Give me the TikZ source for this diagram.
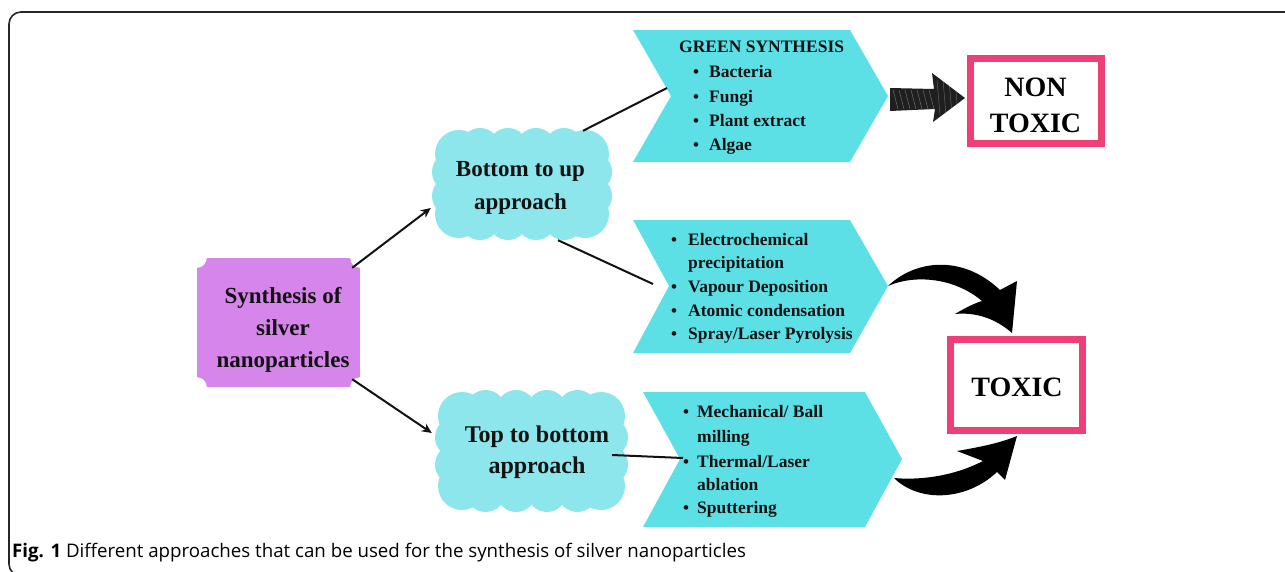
\documentclass[tikz,border=0pt]{standalone}
\usepackage{fontspec}
\setmainfont{Liberation Serif}
\newfontfamily\capfont{Open Sans}
\usetikzlibrary{arrows.meta,calc}

\definecolor{violetbox}{RGB}{214,134,234}
\definecolor{cloudcyan}{RGB}{140,230,236}
\definecolor{chevcyan}{RGB}{92,224,230}
\definecolor{toxpink}{RGB}{238,64,118}
\definecolor{ink}{RGB}{18,18,18}

\tikzset{
  lbl/.style={anchor=base, font=\bfseries\fontsize{23}{23}\selectfont, text=ink, inner sep=0pt},
  itm/.style={anchor=base west, font=\bfseries\fontsize{17.5}{17.5}\selectfont, text=ink, inner sep=0pt},
  bul/.style={anchor=base, font=\bfseries\fontsize{17}{17}\selectfont, text=ink, inner sep=0pt},
  tox/.style={anchor=base, font=\bfseries\fontsize{28}{28}\selectfont, text=black, inner sep=0pt},
  link/.style={line width=2pt, draw=ink},
  linkarrow/.style={link, -{Stealth[length=10pt,width=9pt]}},
  chev/.style={fill=chevcyan},
  pinkbox/.style={draw=toxpink, line width=7pt, fill=white, inner sep=0pt},
  bigarrow/.style={fill=black},
}

% scalloped cloud: x0 y0 x1 y1, bumps across, bumps down (radius 20, rounder corners)
\newcommand\puffcloud[6]{%
  \fill[cloudcyan] (#1+14,#2+14) rectangle (#3-14,#4-14);
  \foreach \k in {1,...,\numexpr#5-1\relax}{%
    \fill[cloudcyan] ({#1+20+(#3-#1-40)*\k/#5},{#2+20}) circle[radius=20pt];
    \fill[cloudcyan] ({#1+20+(#3-#1-40)*\k/#5},{#4-20}) circle[radius=20pt];}
  \foreach \k in {1,...,\numexpr#6-1\relax}{%
    \fill[cloudcyan] ({#1+20},{#2+20+(#4-#2-40)*\k/#6}) circle[radius=20pt];
    \fill[cloudcyan] ({#3-20},{#2+20+(#4-#2-40)*\k/#6}) circle[radius=20pt];}
  \foreach \cx/\cy in {#1+27/#2+26,#3-27/#2+26,#1+27/#4-26,#3-27/#4-26}
    \fill[cloudcyan] (\cx,\cy) circle[radius=24pt];
}

\begin{document}
\begin{tikzpicture}[x=1pt,y=-1pt]
\useasboundingbox (0,0) rectangle (1285,571);

% outer frame
\begin{scope}
  \clip (0,0) rectangle (1285,571);
  \draw[line width=1.6pt, black!85, rounded corners=12pt] (9,12) rectangle (1330,576);
\end{scope}

% central box with notched corners
\node[fill=violetbox, minimum width=163pt, minimum height=129pt, inner sep=0pt] (syn) at (278.5,322.5) {};
\foreach \c in {north east,north west,south east,south west}
  \fill[white] (syn.\c) circle[radius=10pt];
\node[lbl] (syn1) at (283,303) {Synthesis of};
\node[lbl] (syn2) at (283,335) {silver};
\node[lbl] (syn3) at (283,367) {nanoparticles};

% clouds
\puffcloud{432}{128}{612}{240}{5}{3}
\node[minimum width=180pt, minimum height=112pt, inner sep=0pt] (bu) at (522,184) {};
\node[lbl] (bu1) at (520.5,176) {Bottom to up};
\node[lbl] (bu2) at (520.5,209) {approach};

\puffcloud{435}{390}{628}{512}{5}{3}
\node[minimum width=193pt, minimum height=122pt, inner sep=0pt] (td) at (531.5,451) {};
\node[lbl, font=\bfseries\fontsize{24}{24}\selectfont] (td1) at (537,442) {Top to bottom};
\node[lbl, font=\bfseries\fontsize{24}{24}\selectfont] (td2) at (537,473) {approach};

% chevrons
\fill[chev] (633,30) -- (850,30) -- (888,96) -- (850,162) -- (633,162) -- (671,96) -- cycle;
\coordinate (c1in) at (671,96);
\coordinate (c1out) at (888,96);
\fill[chev] (633,220) -- (850,220) -- (888,286) -- (850,353) -- (633,353) -- (669,286) -- cycle;
\coordinate (c2in) at (669,286);
\coordinate (c2out) at (888,286);
\fill[chev] (643,392) -- (865,392) -- (902,459) -- (865,527) -- (643,527) -- (680,459) -- cycle;
\coordinate (c3in) at (680,459);
\coordinate (c3out) at (902,459);

% green synthesis list
\node[itm] (g0) at (679,52) {GREEN SYNTHESIS};
\foreach \t/\y [count=\i] in {Bacteria/77,Fungi/102,Plant extract/126,Algae/150}{
  \node[bul] (gb\i) at (696,\y) {\textbullet};
  \node[itm] (g\i) at (709,\y) {\t};}

% physical / chemical list
\foreach \t/\y [count=\i] in {{Electrochemical}/245,{Vapour Deposition}/292,{Atomic condensation}/316,{Spray/Laser Pyrolysis}/339}{
  \node[bul] (pb\i) at (674,\y) {\textbullet};
  \node[itm] (p\i) at (688,\y) {\t};}
\node[itm] (p1b) at (688,268) {precipitation};

% top-down list
\foreach \t/\y [count=\i] in {{Mechanical/ Ball}/417,{Thermal/Laser}/467,{Sputtering}/513}{
  \node[bul] (tb\i) at (686,\y) {\textbullet};
  \node[itm] (t\i) at (697,\y) {\t};}
\node[itm] (t1b) at (697,442) {milling};
\node[itm] (t2b) at (697,490) {ablation};

% connectors
\draw[linkarrow] ($(syn.north east)+(-8,10)$) -- ($(bu.west)+(-1,24)$);
\draw[linkarrow] ($(syn.south east)+(-8,-8)$) -- ($(td.west)+(-3,-18)$);
\draw[link] ($(bu.north)+(61,3)$) -- ($(c1in)+(-4,-8)$);
\draw[link] ($(bu.south)+(36,0)$) -- ($(c2in)+(-16,-2)$);
\draw[link] ($(td.east)+(-16,4)$) -- ($(c3in)+(3,-1)$);

% result boxes
\node[pinkbox, minimum width=131pt, minimum height=85pt] (nt) at (1036,101) {};
\node[tox] (nt1) at (1035.5,96) {NON};
\node[tox] (nt2) at (1035.5,132) {TOXIC};
\node[pinkbox, minimum width=132pt, minimum height=91pt] (tx) at (1016.5,385) {};
\node[tox] (tx1) at (1017,396) {TOXIC};

% sketched arrow towards the non-toxic box
\fill[black!88] (890,88) -- (934,89) -- (932,73) -- (965,98) -- (933,122) -- (935,109) -- (890,111) -- cycle;
\foreach \x in {893,899,...,929}
  \draw[white, opacity=0.35, line width=0.5pt] (\x,90) -- (\x+5,109);
\foreach \x in {937,943,...,955}
  \draw[white, opacity=0.3, line width=0.5pt] (\x,80) -- (\x+3,115);

% curved arrows towards the toxic box
\fill[bigarrow] (c2out) .. controls (915,260) and (962,254) .. (1000,290)
  -- (1017,281) -- (1012,333)
  .. controls (995,318) and (975,312) .. (955,314)
  .. controls (965,308) and (975,303) .. (982,301)
  .. controls (955,278) and (915,274) .. (c2out) -- cycle;
\fill[bigarrow] ($(c3out)+(-8,19)$) .. controls (915,480) and (950,478) .. (983,461)
  -- (957,451)
  .. controls (980,447) and (1000,443) .. (1017,436)
  -- (1005,480) -- (997,472)
  .. controls (965,502) and (918,502) .. ($(c3out)+(-8,19)$) -- cycle;

% caption
\node[anchor=base west, inner sep=0pt, font=\capfont\fontsize{18.7}{18.7}\selectfont] (cap) at (12,557)
  {\textbf{Fig. 1} Different approaches that can be used for the synthesis of silver nanoparticles};
\end{tikzpicture}
\end{document}
